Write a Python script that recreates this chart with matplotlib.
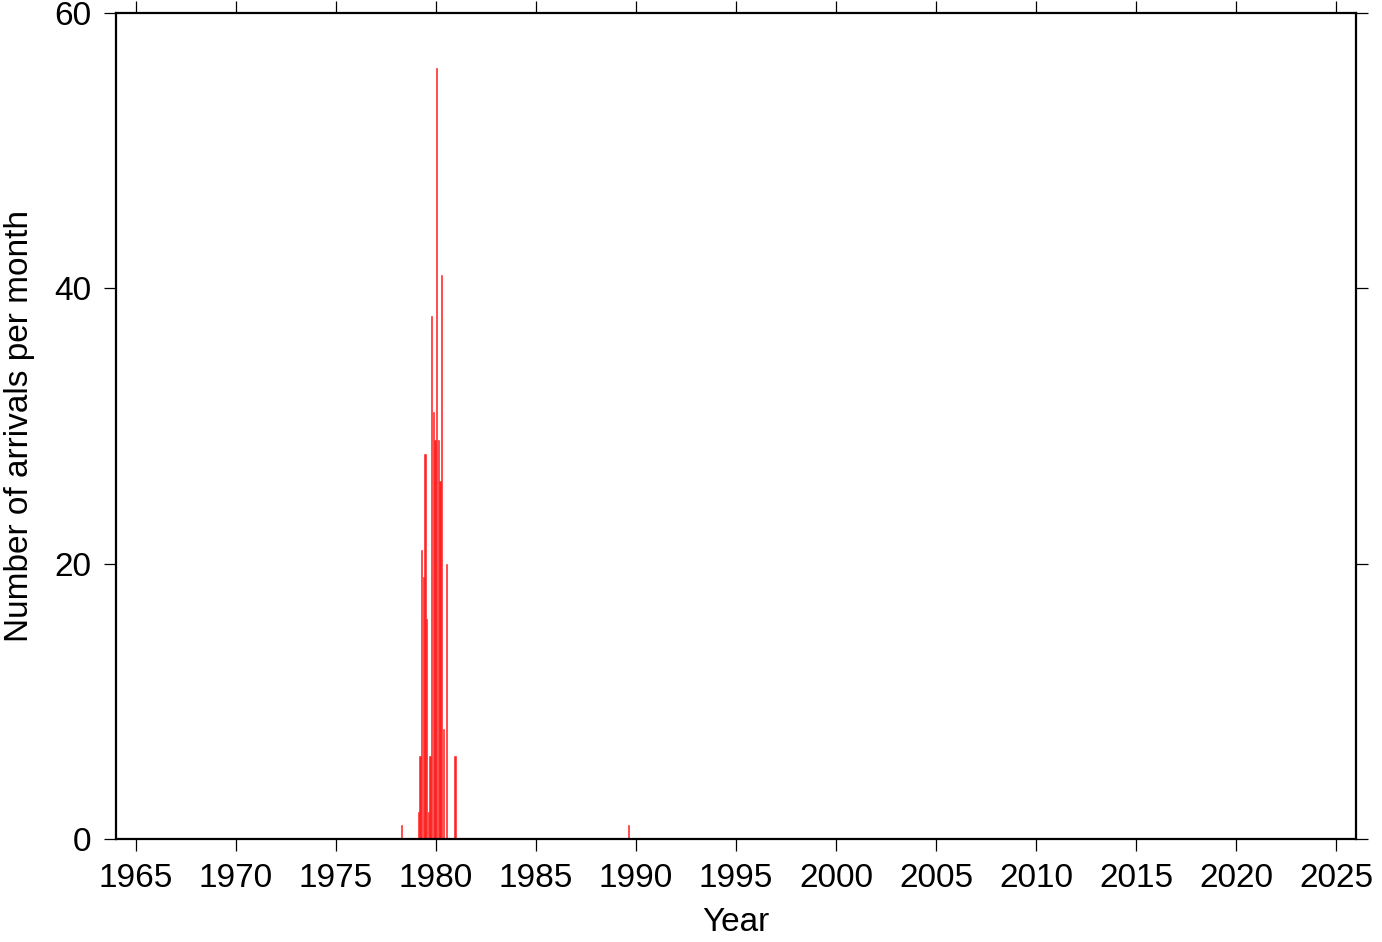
import matplotlib
matplotlib.use('Agg')
import matplotlib.pyplot as plt

# monthly arrival counts (only months with arrivals)
years = [1978, 1979, 1979, 1979, 1979, 1979, 1979, 1979, 1979, 1979, 1979,
         1979, 1980, 1980, 1980, 1980, 1980, 1980, 1980, 1989]
months = [4, 2, 3, 4, 5, 6, 7, 8, 9, 10, 11,
          12, 1, 2, 3, 4, 5, 7, 12, 8]
counts = [1, 2, 6, 21, 19, 28, 16, 2, 6, 38, 31,
          29, 56, 29, 26, 41, 8, 20, 6, 1]

x_ticks = list(range(1965, 2030, 5))
y_ticks = [0, 20, 40, 60]

plt.rcParams['font.family'] = ['Liberation Sans', 'DejaVu Sans']

fig = plt.figure(figsize=(13.82, 9.42), dpi=100)
ax = fig.add_axes([0.0839, 0.1093, 0.8973, 0.8769])

t = [y + (m - 1) / 12 for y, m in zip(years, months)]
ax.bar(t, counts, width=1 / 12 * 0.9, align='edge', color='#ff2020',
       edgecolor='#ff2020', linewidth=0.4)

ax.set_xlim(1964, 2026)
ax.set_ylim(0, 60)
ax.set_xticks(x_ticks)
ax.set_yticks(y_ticks)
ax.tick_params(direction='out', length=8.5, width=0.9, labelsize=24, pad=9,
               top=True, right=True)
for s in ax.spines.values():
  s.set_linewidth(1.6)

ax.set_xlabel('Year', fontsize=24, labelpad=9)
ax.set_ylabel('Number of arrivals per month', fontsize=24, labelpad=14)

fig.savefig('out.png', dpi=100)
